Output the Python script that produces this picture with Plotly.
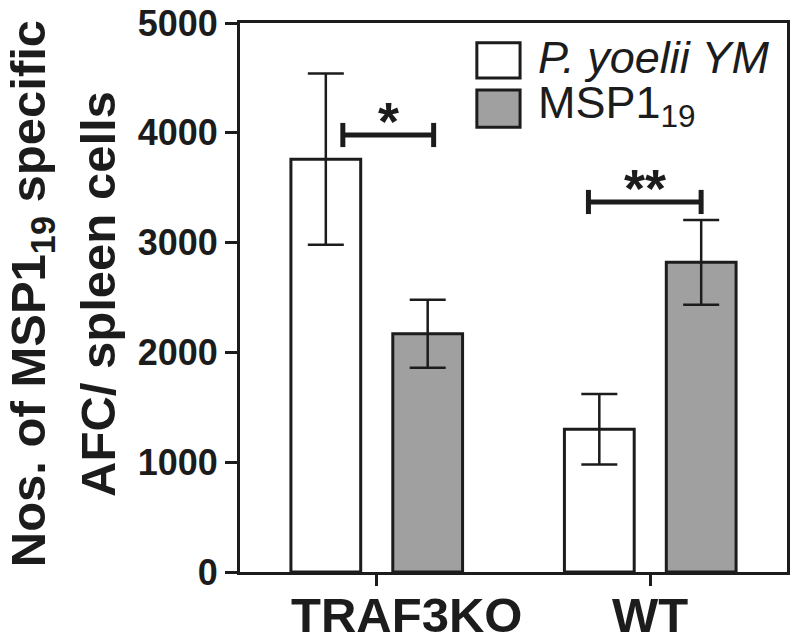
import plotly.graph_objects as go

# ---- data ----
groups = ["TRAF3KO", "WT"]
series_names = ["<i>P. yoelii YM</i>", "MSP1<sub>19</sub>"]
pyoelii_mean = [3760, 1300]
pyoelii_err = [780, 320]
msp_mean = [2170, 2820]
msp_err = [310, 385]
y_ticks = [0, 1000, 2000, 3000, 4000, 5000]
sig_labels = ["*", "**"]
sig_heights = [3980, 3370]

INK = "#1c1c1c"
GRAY = "#a0a0a0"
FONT = "Liberation Sans, Arial, sans-serif"

fig = go.Figure()
fig.add_trace(go.Bar(
    x=groups, y=pyoelii_mean, name=series_names[0],
    marker=dict(color="white", line=dict(color=INK, width=3)),
    error_y=dict(type="data", array=pyoelii_err, visible=True,
                 color=INK, thickness=2.5, width=18),
    showlegend=False,
))
fig.add_trace(go.Bar(
    x=groups, y=msp_mean, name=series_names[1],
    marker=dict(color=GRAY, line=dict(color=INK, width=3)),
    error_y=dict(type="data", array=msp_err, visible=True,
                 color=INK, thickness=2.5, width=18),
    showlegend=False,
))

# figure is 784x626 so that, with the page's 8px body margin, it fills the 800x642 view
fig.update_layout(
    width=784, height=626,
    margin=dict(l=232, r=5, t=15, b=62, autoexpand=False),
    paper_bgcolor="white", plot_bgcolor="white",
    barmode="group", bargap=0.255, bargroupgap=0.315,
    font=dict(family=FONT, color=INK),
)

fig.update_xaxes(
    type="category", range=[-0.5, 1.5], automargin=False,
    showline=True, linecolor=INK, linewidth=3, mirror=True,
    ticks="outside", ticklen=11, tickwidth=2.5, tickcolor=INK,
    showticklabels=False, showgrid=False, zeroline=False,
)
fig.update_yaxes(
    range=[0, 5000], tickvals=y_ticks, automargin=False,
    ticklabeloverflow="allow",
    showline=True, linecolor=INK, linewidth=3, mirror=True,
    ticks="outside", ticklen=12, tickwidth=2.5, tickcolor=INK,
    tickfont=dict(size=36, family=FONT, color=INK, weight="bold"),
    showgrid=False, zeroline=False,
)

# x category labels
label_shift = [0.11, 0.0]
for i, g in enumerate(groups):
    fig.add_annotation(
        x=i + label_shift[i], y=0, xref="x", yref="y",
        text="<b>%s</b>" % g, showarrow=False,
        xanchor="center", yanchor="top", yshift=-14,
        font=dict(size=49, family=FONT, color=INK),
    )

# y title (two lines)
fig.add_annotation(
    x=-0.381, y=0.507, xref="paper", yref="paper",
    text="<b>Nos. of MSP1<sub>19</sub> specific</b>", textangle=-90,
    showarrow=False, xanchor="center", yanchor="middle",
    font=dict(size=49, family=FONT, color=INK),
)
fig.add_annotation(
    x=-0.261, y=0.507, xref="paper", yref="paper",
    text="<b>AFC/ spleen cells</b>", textangle=-90,
    showarrow=False, xanchor="center", yanchor="middle",
    font=dict(size=49, family=FONT, color=INK),
)

# significance brackets (offsets relative to each group's centre)
brackets = [(-0.124, 0.208), (-0.226, 0.186)]
cap = 110
for i, (dx0, dx1) in enumerate(brackets):
    x0, x1 = i + dx0, i + dx1
    h = sig_heights[i]
    fig.add_shape(type="line", x0=x0, x1=x1, y0=h, y1=h, xref="x", yref="y",
                  line=dict(color=INK, width=5))
    for xx in (x0, x1):
        fig.add_shape(type="line", x0=xx, x1=xx, y0=h - cap, y1=h + cap,
                      xref="x", yref="y", line=dict(color=INK, width=5))
    fig.add_annotation(
        x=(x0 + x1) / 2, y=h, xref="x", yref="y",
        text="<b>%s</b>" % sig_labels[i], showarrow=False,
        xanchor="center", yanchor="bottom", yshift=-18,
        font=dict(size=54, family=FONT, color=INK),
    )

# manual legend
leg_fill = ["white", GRAY]
leg_y = [(0.900, 0.964), (0.810, 0.878)]
for i in range(2):
    y0, y1 = leg_y[i]
    fig.add_shape(type="rect", xref="paper", yref="paper",
                  x0=0.433, x1=0.512, y0=y0, y1=y1,
                  fillcolor=leg_fill[i], line=dict(color=INK, width=3))
    fig.add_annotation(
        x=0.541, y=(y0 + y1) / 2, xref="paper", yref="paper",
        text=series_names[i], showarrow=False,
        xanchor="left", yanchor="middle", yshift=3,
        font=dict(size=45, family=FONT, color=INK),
    )

fig.write_html("out.html")
